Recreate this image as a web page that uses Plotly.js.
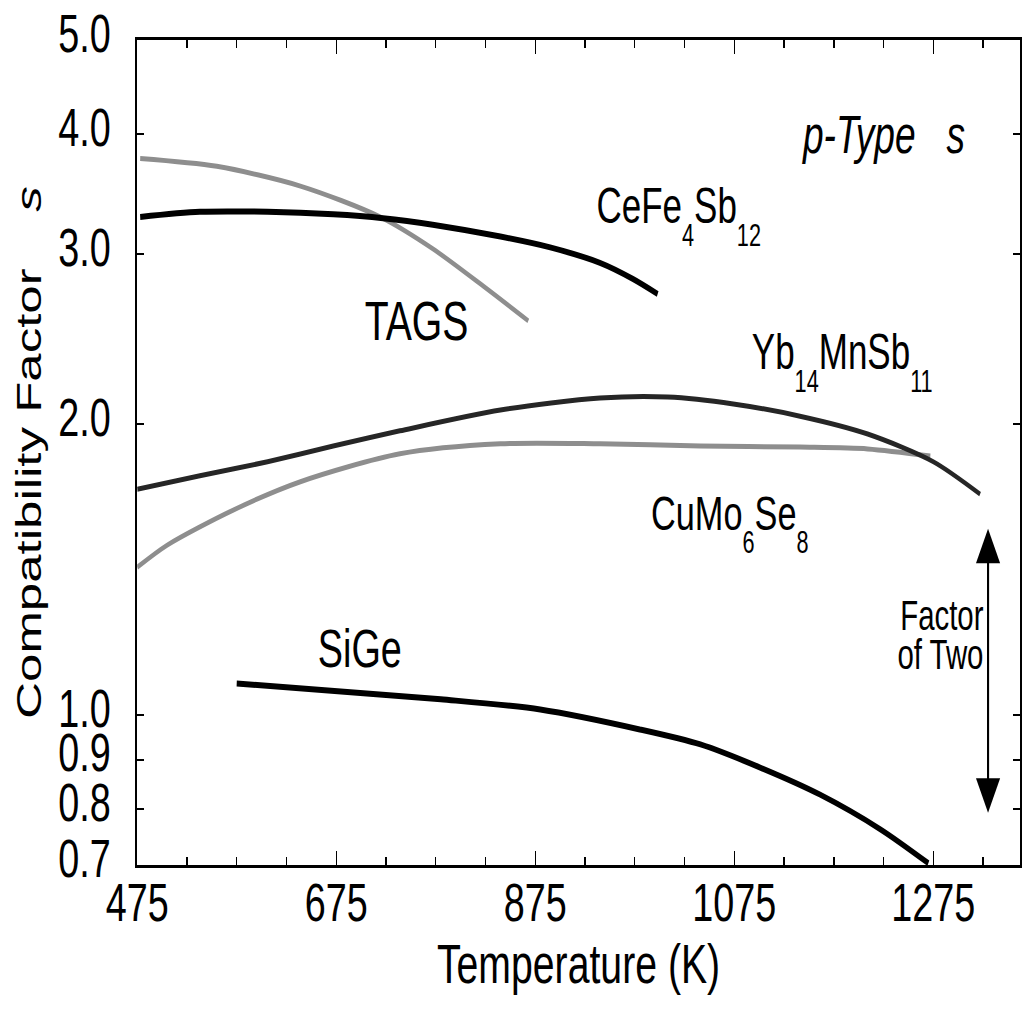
<!DOCTYPE html>
<html>
<head>
<meta charset="utf-8">
<script src="https://cdn.plot.ly/plotly-3.0.1.min.js"></script>
<style>
  html, body { margin: 0; padding: 0; overflow: hidden; background: #fff; }
  #wrap { width: 1025px; height: 1013px; overflow: hidden; }
  /* the figure is drawn wide and squeezed horizontally, giving its tall narrow lettering */
  #chart { width: 1464px; height: 1013px; transform: scaleX(0.7); transform-origin: 0 0; }
</style>
</head>
<body>
<div id="wrap"><div id="chart"></div></div>
<script>
// Compatibility factor s of p-type thermoelectric materials versus temperature (K)
const tagsT = [478, 555, 639, 719, 772, 823, 868];
const tagsS = [3.77, 3.70, 3.53, 3.28, 3.04, 2.78, 2.56];

const ceT = [478, 538, 606, 672, 722, 772, 840, 890, 940, 973, 998];
const ceS = [3.28, 3.32, 3.32, 3.30, 3.27, 3.22, 3.13, 3.05, 2.94, 2.83, 2.73];

const ybT = [475, 538, 606, 672, 739, 840, 940, 1008, 1074, 1141, 1209, 1275, 1322];
const ybS = [1.714, 1.77, 1.83, 1.90, 1.97, 2.07, 2.13, 2.135, 2.10, 2.04, 1.955, 1.83, 1.694];

const cuT = [475, 505, 571, 639, 739, 840, 940, 1041, 1141, 1209, 1272];
const cuS = [1.423, 1.50, 1.63, 1.745, 1.865, 1.91, 1.91, 1.90, 1.895, 1.887, 1.855];

const siT = [575, 780, 880, 980, 1041, 1101, 1161, 1222, 1270];
const siS = [1.079, 1.039, 1.014, 0.967, 0.933, 0.883, 0.828, 0.762, 0.703];

const yTickVals = [0.7, 0.8, 0.9, 1, 2, 3, 4, 5];
const yTickText = ['0.7', '0.8', '0.9', '1.0', '2.0', '3.0', '4.0', '5.0'];

// "factor of two" bracket: lower and upper ends of the double arrow
const arrowT = 1330;
const arrowLow = 0.793;
const arrowHigh = 1.566;

const FONT = 'Liberation Sans, Arial, Helvetica, sans-serif';

// chemical subscript, dropped well below the baseline
function sub(n) {
  return '<sub><sub><sub><span style="font-size:31px">' + n + '</span></sub></sub></sub>';
}

function curve(x, y, color, width) {
  return {
    x: x, y: y, type: 'scatter', mode: 'lines',
    line: { color: color, width: width, shape: 'spline', smoothing: 0.8 },
    hoverinfo: 'skip'
  };
}

const traces = [
  curve(tagsT, tagsS, '#8e8e8e', 5),
  curve(ceT, ceS, '#000000', 6),
  curve(cuT, cuS, '#8e8e8e', 5),
  curve(ybT, ybS, '#262626', 5),
  curve(siT, siS, '#000000', 6)
];

function label(text, x, y, size, opts) {
  return Object.assign({
    text: text, x: x, y: Math.log10(y), xref: 'x', yref: 'y',
    xanchor: 'left', yanchor: 'top', showarrow: false,
    font: { family: FONT, size: size, color: '#000' }
  }, opts || {});
}

const annotations = [
  label('<i>p-Type\u00a0\u00a0\u00a0s</i>', 1141, 4.30, 53),
  label('CeFe' + sub('4') + 'Sb' + sub('12'), 935, 3.62, 50),
  label('TAGS', 702, 2.777, 56),
  label('Yb' + sub('14') + 'MnSb' + sub('11'), 1091, 2.555, 50),
  label('CuMo' + sub('6') + 'Se' + sub('8'), 990, 1.735, 49),
  label('SiGe', 655, 1.266, 54),
  label('Factor', 1327, 1.347, 42, { xanchor: 'right' }),
  label('of Two', 1327, 1.228, 42, { xanchor: 'right' }),
  {
    x: arrowT, y: Math.log10(arrowLow), ax: arrowT, ay: Math.log10(arrowHigh),
    xref: 'x', yref: 'y', axref: 'x', ayref: 'y', text: '',
    showarrow: true, arrowhead: 2, startarrowhead: 2, arrowside: 'end+start',
    arrowsize: 2.3, startarrowsize: 2.3, arrowwidth: 3, arrowcolor: '#000',
    standoff: 0, startstandoff: 0
  }
];

const layout = {
  width: 1464, height: 1013,
  margin: { l: 196, r: 7, t: 40, b: 148, pad: 0 },
  paper_bgcolor: '#ffffff', plot_bgcolor: '#ffffff',
  showlegend: false,
  font: { family: FONT, color: '#000' },
  xaxis: {
    range: [475, 1362], tickmode: 'linear', tick0: 475, dtick: 200,
    ticks: 'inside', ticklen: 14, tickwidth: 2, tickcolor: '#000',
    minor: { tick0: 475, dtick: 50, ticks: 'inside', ticklen: 8, tickwidth: 2, tickcolor: '#000', showgrid: false },
    showline: true, linewidth: 3, linecolor: '#000', mirror: 'ticks',
    showgrid: false, zeroline: false, automargin: false,
    tickfont: { family: FONT, size: 54, color: '#000' }, ticklabelstandoff: -12,
    title: { text: 'Temperature (K)', font: { family: FONT, size: 56, color: '#000' }, standoff: 8 }
  },
  yaxis: {
    type: 'log', range: [Math.log10(0.7), Math.log10(5)],
    tickmode: 'array', tickvals: yTickVals, ticktext: yTickText,
    ticks: 'inside', ticklen: 10, tickwidth: 2, tickcolor: '#000',
    showline: true, linewidth: 3, linecolor: '#000', mirror: 'ticks',
    showgrid: false, zeroline: false, automargin: false,
    tickfont: { family: FONT, size: 54, color: '#000' },
    ticklabelstandoff: 24, ticklabelshift: -7,
    title: { text: 'Compatibility Factor\u00a0\u00a0\u00a0\u00a0<i>s</i>', font: { family: FONT, size: 51, color: '#000' }, standoff: 8 }
  },
  annotations: annotations
};

Plotly.newPlot('chart', traces, layout, { staticPlot: true, displayModeBar: false });
</script>
</body>
</html>
